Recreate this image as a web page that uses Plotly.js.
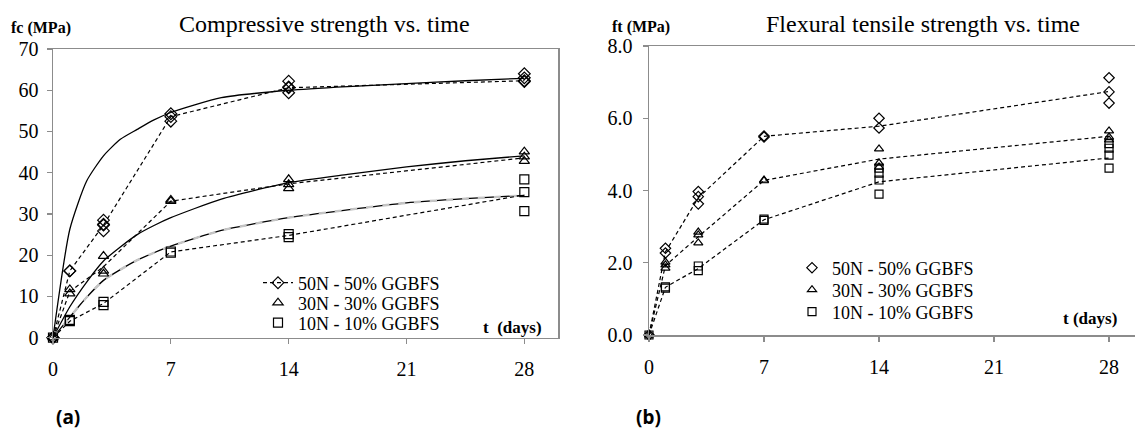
<!DOCTYPE html>
<html>
<head>
<meta charset="utf-8">
<script src="https://cdn.plot.ly/plotly-3.0.1.min.js"></script>
<style>
html,body{margin:0;padding:0;background:#fff;}
#chart{width:1135px;height:439px;}
</style>
</head>
<body>
<div id="chart"></div>
<script>
// ---------- DATA ----------
const xTicks = [0, 7, 14, 21, 28];
const seriesNames = ["50N - 50% GGBFS", "30N - 30% GGBFS", "10N - 10% GGBFS"];

// (a) compressive strength – individual specimens
const fcDays50 = [0, 0, 1, 3, 3, 3, 7, 7, 14, 14, 14, 28, 28, 28];
const fc50     = [0, 0, 16.2, 28.5, 27.5, 25.9, 54.3, 52.5, 62.2, 60.8, 59.4, 64.0, 63.0, 62.1];
const fcDays30 = [0, 1, 1, 3, 3, 3, 7, 7, 14, 14, 14, 28, 28, 28];
const fc30     = [0, 11.7, 10.7, 19.8, 16.2, 15.5, 33.1, 33.4, 38.4, 37.2, 36.2, 45.1, 43.9, 42.8];
const fcDays10 = [0, 1, 1, 3, 3, 7, 7, 14, 14, 28, 28, 28];
const fc10     = [0, 4.0, 4.3, 8.7, 7.9, 20.6, 20.9, 25.1, 24.4, 38.4, 35.3, 30.7];

// (a) mean values (dashed)
const meanDays = [0, 1, 3, 7, 14, 28];
const fcMean50 = [0, 16.2, 27.3, 53.6, 60.6, 62.3];
const fcMean30 = [0, 11.2, 17.2, 33.1, 37.3, 43.6];
const fcMean10 = [0, 4.0, 8.3, 20.8, 24.8, 34.6];

// (a) fitted curves (solid)
const fitDays  = [0, 1, 2, 3, 4, 5, 6, 7, 10, 14, 17.5, 21, 24.5, 28];
const fcFit50  = [0, 26.3, 38.0, 44.1, 48.1, 50.5, 52.8, 54.6, 58.2, 60.0, 60.9, 61.6, 62.3, 62.9];
const fcFit30  = [0, 7.5, 13.5, 18.6, 22.0, 25.0, 27.2, 29.1, 33.6, 37.6, 39.6, 41.4, 42.9, 44.1];
const fcFit10  = [0, 5.0, 9.8, 13.9, 16.5, 18.8, 20.6, 22.2, 26.0, 29.1, 31.0, 32.7, 33.7, 34.5];

// (b) flexural tensile strength – individual specimens
const ftDays50 = [0, 1, 1, 3, 3, 3, 7, 7, 14, 14, 28, 28, 28];
const ft50     = [0, 2.40, 2.27, 3.97, 3.83, 3.63, 5.51, 5.48, 6.00, 5.73, 7.12, 6.73, 6.42];
const ftDays30 = [0, 1, 1, 1, 3, 3, 3, 7, 7, 14, 14, 14, 28, 28, 28];
const ft30     = [0, 2.02, 1.94, 1.85, 2.85, 2.77, 2.55, 4.29, 4.27, 5.15, 4.76, 4.65, 5.65, 5.48, 5.40];
const ftDays10 = [0, 1, 1, 3, 3, 7, 7, 14, 14, 14, 14, 28, 28, 28, 28];
const ft10     = [0, 1.33, 1.30, 1.91, 1.78, 3.21, 3.17, 4.62, 4.48, 4.29, 3.90, 5.30, 5.17, 4.98, 4.62];

// (b) mean values (dashed)
const ftMean50 = [0, 2.30, 3.80, 5.50, 5.78, 6.74];
const ftMean30 = [0, 1.92, 2.72, 4.28, 4.87, 5.50];
const ftMean10 = [0, 1.32, 1.84, 3.19, 4.24, 4.90];

// ---------- STYLE ----------
const SERIF = "Liberation Serif, Times New Roman, serif";
const AX = "#8c8c8c";
const W = 1135, H = 439;
const px = v => v / W;
const py = v => 1 - v / H;
const DASH = "4px,3px";
const symbols = ["diamond-open", "triangle-up-open", "square-open"];

function pts(x, y, k, xa, ya, legendKey, show, size) {
  return {
    x: x, y: y, xaxis: xa, yaxis: ya, type: "scatter", mode: "markers",
    name: seriesNames[k], legend: legendKey, showlegend: show, cliponaxis: false,
    marker: {symbol: symbols[k], size: size, color: "#000", line: {color: "#000", width: 1.2}},
    hoverinfo: "x+y"
  };
}
function dashed(y, xa, ya) {
  return {x: meanDays, y: y, xaxis: xa, yaxis: ya, type: "scatter", mode: "lines",
    showlegend: false, line: {color: "#000", width: 1.2, dash: DASH}, hoverinfo: "skip"};
}
function solid(y) {
  return {x: fitDays, y: y, xaxis: "x", yaxis: "y", type: "scatter", mode: "lines",
    showlegend: false, line: {color: "#000", width: 1.3, shape: "spline", smoothing: 0.6}, hoverinfo: "skip"};
}

const traces = [
  // left chart
  solid(fcFit50), solid(fcFit30), solid(fcFit10),
  {x: fitDays, y: fcFit10, xaxis: "x", yaxis: "y", type: "scatter", mode: "lines", showlegend: false,
   line: {color: "#c4c4c4", width: 2.4, dash: "7px,9px", shape: "spline", smoothing: 0.6}, hoverinfo: "skip"},
  dashed(fcMean30, "x", "y"), dashed(fcMean10, "x", "y"),
  {x: meanDays, y: fcMean50, xaxis: "x", yaxis: "y", type: "scatter", mode: "lines+markers",
   name: seriesNames[0], legend: "legend", showlegend: true, cliponaxis: false,
   line: {color: "#000", width: 1.2, dash: DASH},
   marker: {symbol: symbols[0], size: 9, color: "#000", line: {color: "#000", width: 1.2}}},
  pts(fcDays50, fc50, 0, "x", "y", "legend", false, 9),
  pts(fcDays30, fc30, 1, "x", "y", "legend2", true, 9),
  pts(fcDays10, fc10, 2, "x", "y", "legend3", true, 9),
  // right chart
  dashed(ftMean50, "x2", "y2"), dashed(ftMean30, "x2", "y2"), dashed(ftMean10, "x2", "y2"),
  pts(ftDays50, ft50, 0, "x2", "y2", "legend4", true, 8),
  pts(ftDays30, ft30, 1, "x2", "y2", "legend5", true, 8),
  pts(ftDays10, ft10, 2, "x2", "y2", "legend6", true, 8)
];

const tickFont = {family: SERIF, size: 20, color: "#000"};
const baseAxis = {
  showgrid: false, zeroline: false, showline: true, linecolor: AX, linewidth: 1.5,
  ticks: "outside", ticklen: 5, tickwidth: 1.2, tickcolor: AX, tickfont: tickFont
};

function oneLegend(xPix, yPix) {
  return {x: px(xPix), y: py(yPix), xanchor: "left", yanchor: "middle", bgcolor: "rgba(0,0,0,0)",
    font: {family: SERIF, size: 18, color: "#000"}, tracegroupgap: 0, itemwidth: 30};
}

const layout = {
  width: W, height: H,
  margin: {l: 0, r: 0, t: 0, b: 0},
  paper_bgcolor: "#fff", plot_bgcolor: "#fff",
  font: {family: SERIF, color: "#000"},
  xaxis: Object.assign({}, baseAxis, {domain: [px(53), px(558)], range: [0, 30], tickvals: xTicks,
    anchor: "y", mirror: true, ticklabelstandoff: 8}),
  yaxis: Object.assign({}, baseAxis, {domain: [py(337.7), py(49)], range: [0, 70], dtick: 10,
    anchor: "x", mirror: true, ticklabelstandoff: 4}),
  xaxis2: Object.assign({}, baseAxis, {domain: [px(649), 1], range: [0, 29.58], tickvals: xTicks,
    anchor: "y2", mirror: true, ticklabelstandoff: 8}),
  yaxis2: Object.assign({}, baseAxis, {domain: [py(335), py(46)], range: [0, 8], dtick: 2, tickformat: ".1f",
    anchor: "x2", mirror: false, ticklabelstandoff: 6}),
  legend: oneLegend(258, 283),
  legend2: oneLegend(258, 303),
  legend3: oneLegend(258, 323),
  legend4: oneLegend(792, 268),
  legend5: oneLegend(792, 290),
  legend6: oneLegend(792, 312),
  annotations: [
    {text: "Compressive strength vs. time", x: px(324), y: py(24), font: {family: SERIF, size: 24}},
    {text: "Flexural tensile strength vs. time", x: px(923), y: py(24), font: {family: SERIF, size: 24}},
    {text: "<b>fc (MPa)</b>", x: px(41), y: py(28), font: {family: SERIF, size: 16}},
    {text: "<b>ft (MPa)</b>", x: px(641), y: py(27), font: {family: SERIF, size: 16}},
    {text: "<b>t  (days)</b>", x: px(512), y: py(327), font: {family: SERIF, size: 17}},
    {text: "<b>t (days)</b>", x: px(1090), y: py(318), font: {family: SERIF, size: 17}},
    {text: "<b>(a)</b>", x: px(68), y: py(417), font: {family: "Noto Sans, sans-serif", size: 19}},
    {text: "<b>(b)</b>", x: px(648), y: py(417), font: {family: "Noto Sans, sans-serif", size: 19}}
  ].map(a => Object.assign({xref: "paper", yref: "paper", xanchor: "center", yanchor: "middle",
    showarrow: false}, a, {font: Object.assign({color: "#000"}, a.font)}))
};

Plotly.newPlot("chart", traces, layout, {displayModeBar: false, staticPlot: true});
</script>
</body>
</html>
